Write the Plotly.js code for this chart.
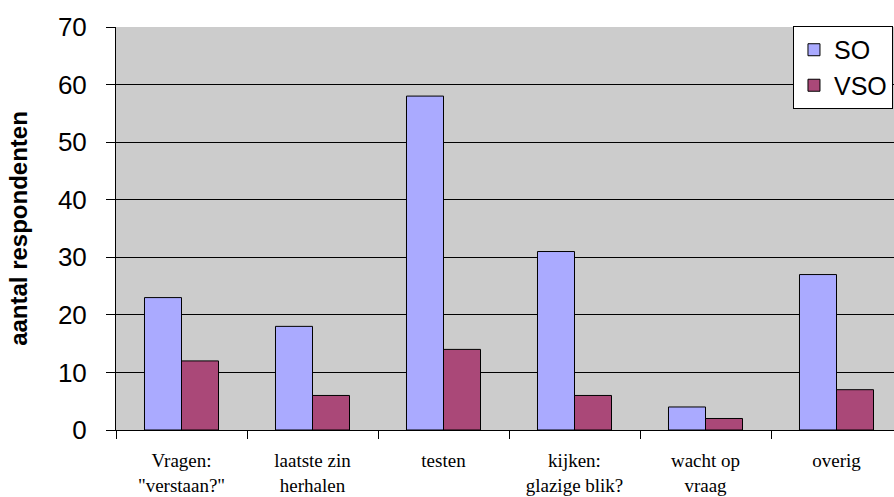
<!DOCTYPE html>
<html>
<head>
<meta charset="utf-8">
<script src="https://cdn.plot.ly/plotly-3.0.1.min.js"></script>
<style>
html,body{margin:0;padding:0;overflow:hidden;background:#fff;}
#chart{width:910px;height:497px;}
</style>
</head>
<body>
<div id="chart"></div>
<script>
const categories = ['Vragen:<br>"verstaan?"', 'laatste zin<br>herhalen', 'testen', 'kijken:<br>glazige blik?', 'wacht op<br>vraag', 'overig'];
const soValues = [23, 18, 58, 31, 4, 27];
const vsoValues = [12, 6, 14, 6, 2, 7];
const yTicks = [0, 10, 20, 30, 40, 50, 60, 70];

const traces = [
  {type: 'bar', name: 'SO', x: categories, y: soValues,
   marker: {color: '#aaaaff', line: {color: '#000000', width: 1}}},
  {type: 'bar', name: 'VSO', x: categories, y: vsoValues,
   marker: {color: '#aa4878', line: {color: '#000000', width: 1}}}
];

const layout = {
  width: 910, height: 497,
  margin: {l: 116, r: 8, t: 27, b: 67},
  paper_bgcolor: '#ffffff',
  plot_bgcolor: '#cccccc',
  barmode: 'group',
  bargap: 0.435,
  bargroupgap: 0,
  showlegend: true,
  legend: {
    x: 0.8613, y: 1.0025, xanchor: 'left', yanchor: 'top',
    bgcolor: '#ffffff', bordercolor: '#000000', borderwidth: 1,
    font: {family: 'Liberation Sans', size: 25, color: '#000'}
  },
  xaxis: {
    type: 'category',
    tickson: 'boundaries',
    ticks: 'outside', ticklen: 8, tickcolor: '#000', tickwidth: 1,
    showline: true, linecolor: '#000', linewidth: 1,
    showgrid: false, zeroline: false,
    tickfont: {family: 'Liberation Serif', size: 19, color: '#000'},
    ticklabelstandoff: 13,
    fixedrange: true
  },
  yaxis: {
    range: [0, 70],
    tickvals: yTicks,
    ticktext: yTicks.map(String),
    ticks: 'outside', ticklen: 9, tickcolor: '#000', tickwidth: 1,
    showline: true, linecolor: '#000', linewidth: 1,
    showgrid: true, gridcolor: '#000', gridwidth: 1,
    zeroline: false,
    tickfont: {family: 'Liberation Sans', size: 26, color: '#000'},
    ticklabelstandoff: 14,
    title: {text: 'aantal respondenten', standoff: 23,
            font: {family: 'Liberation Sans', size: 24, color: '#000', weight: 'bold'}},
    fixedrange: true
  }
};

Plotly.newPlot('chart', traces, layout, {displayModeBar: false, staticPlot: true});
</script>
</body>
</html>
